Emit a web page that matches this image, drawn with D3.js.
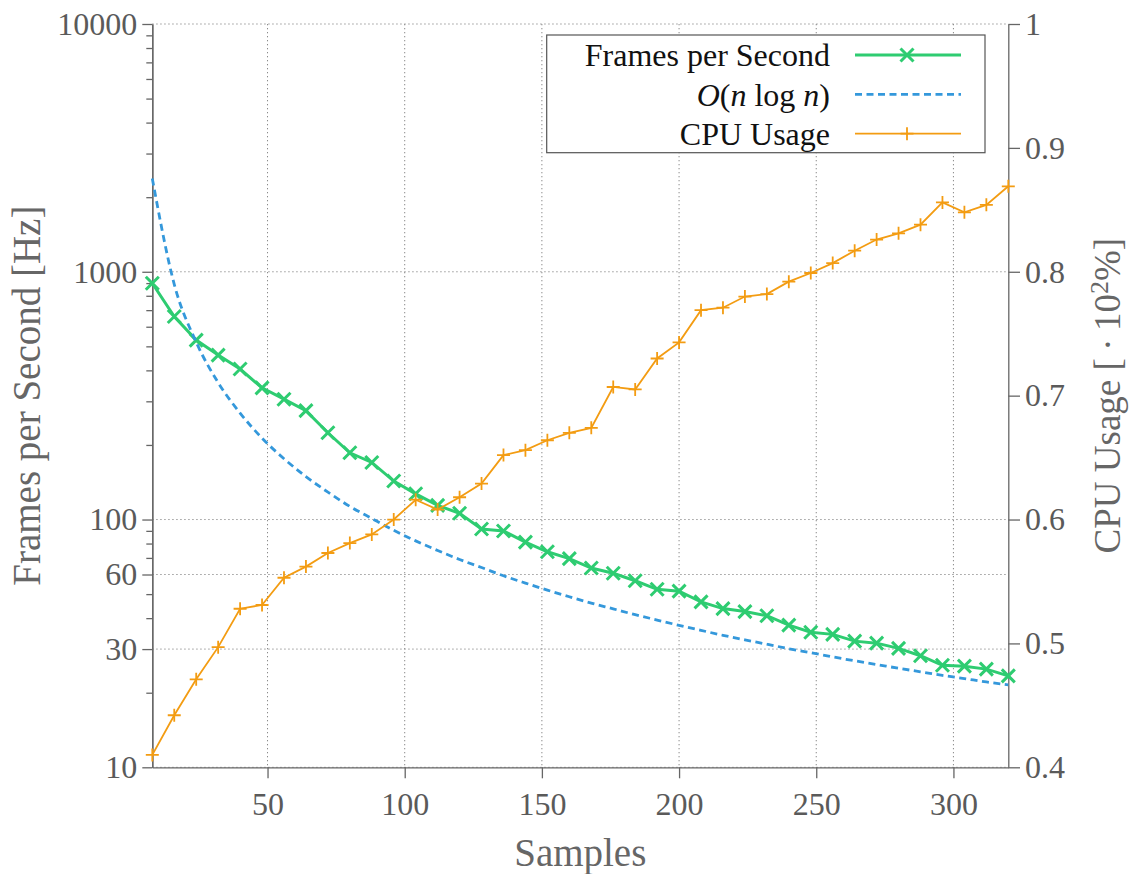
<!DOCTYPE html>
<html lang="en">
<head>
<meta charset="utf-8">
<title>Frames per Second and CPU Usage</title>
<script src="https://d3js.org/d3.v7.min.js"></script>
<style>
body { margin: 0; background: #fff; }
svg text { font-family: "Liberation Serif", "DejaVu Serif", serif; }
</style>
</head>
<body>
<div id="container"></div>
<script>
// values
const samples = [8, 16, 24, 32, 40, 48, 56, 64, 72, 80, 88, 96, 104, 112, 120, 128, 136, 144, 152, 160,
                 168, 176, 184, 192, 200, 208, 216, 224, 232, 240, 248, 256, 264, 272, 280, 288, 296, 304, 312, 320];
const fps = [899, 660, 530, 461, 405, 340, 306, 275, 224, 186, 170, 143, 127, 114, 106, 91.6, 89.9, 81.1, 74.1, 69.5,
             63.7, 60.7, 56.6, 52.3, 51.4, 46.5, 43.7, 42.5, 40.9, 37.5, 35.1, 34.4, 32.3, 31.7, 30.2, 28.2, 25.8, 25.6, 24.9, 23.4];
const nlogn = [2380, 890, 520, 357, 269, 213, 176, 149, 129, 113, 101, 90.5, 82, 75, 69, 64, 59.3, 55.4, 51.9, 48.8,
               46, 43.6, 41.3, 39.3, 37.4, 35.7, 34.1, 32.7, 31.4, 30.1, 29, 27.9, 26.9, 26, 25.1, 24.3, 23.5, 22.8, 22.1, 21.5];
const cpu = [0.410, 0.442, 0.471, 0.497, 0.528, 0.531, 0.553, 0.562, 0.573, 0.581, 0.588, 0.600, 0.616, 0.608, 0.618, 0.629, 0.652, 0.656, 0.664, 0.670,
             0.674, 0.707, 0.705, 0.730, 0.743, 0.769, 0.771, 0.780, 0.782, 0.792, 0.799, 0.807, 0.817, 0.826, 0.831, 0.838, 0.856, 0.848, 0.854, 0.869];

const sampleTicks = [50, 100, 150, 200, 250, 300];
const fpsTicks = [10, 30, 60, 100, 1000, 10000];
const fpsMinorTicks = [20, 40, 50, 70, 80, 90, 200, 300, 400, 500, 600, 700, 800, 900,
                       2000, 3000, 4000, 5000, 6000, 7000, 8000, 9000];
const cpuTicks = [0.4, 0.5, 0.6, 0.7, 0.8, 0.9, 1];

const seriesNames = ["Frames per Second", "O(n log n)", "CPU Usage"];
const colors = { fps: "#2ecc71", nlogn: "#3498db", cpu: "#f39c12" };

const width = 1133;
const height = 874;
const margin = { top: 24, right: 124.7, bottom: 106.7, left: 152.3 };
const innerW = width - margin.left - margin.right;
const innerH = height - margin.top - margin.bottom;
const axisGray = "#666";

const svg = d3.select("div#container").append("svg")
    .attr("width", width)
    .attr("height", height);

const g = svg.append("g")
    .attr("transform", "translate(" + margin.left + "," + margin.top + ")");

const xScale = d3.scaleLinear().domain([8, 320]).range([0, innerW]);
const yScale = d3.scaleLog().domain([10, 10000]).range([innerH, 0]);
const y2Scale = d3.scaleLinear().domain([0.4, 1]).range([innerH, 0]);

// grid
const grid = g.append("g")
    .attr("stroke", "#8a8a8a")
    .attr("stroke-width", 1)
    .attr("stroke-dasharray", "1.3,2.7");
grid.selectAll("line.v")
    .data(sampleTicks)
    .enter().append("line")
    .attr("x1", d => xScale(d)).attr("x2", d => xScale(d))
    .attr("y1", 0).attr("y2", innerH);
grid.selectAll("line.h")
    .data(fpsTicks)
    .enter().append("line")
    .attr("x1", 0).attr("x2", innerW)
    .attr("y1", d => yScale(d)).attr("y2", d => yScale(d));

// axes
function styleAxis(sel, fontSize) {
    sel.attr("font-family", null).attr("font-size", null);
    sel.selectAll("path, line").attr("stroke", axisGray).attr("stroke-width", 1.3);
    sel.selectAll("text").attr("fill", "#5a5a5a").style("font-size", fontSize + "px");
}

const xAxis = g.append("g")
    .attr("transform", "translate(0," + innerH + ")")
    .call(d3.axisBottom(xScale).tickValues(sampleTicks).tickFormat(d => String(d))
        .tickSize(11).tickPadding(14).tickSizeOuter(0));
styleAxis(xAxis, 32);

const yMinor = g.append("g")
    .call(d3.axisLeft(yScale).tickValues(fpsMinorTicks).tickFormat("").tickSize(6).tickSizeOuter(0));
styleAxis(yMinor, 32);

const yAxis = g.append("g")
    .call(d3.axisLeft(yScale).tickValues(fpsTicks).tickFormat(d => String(d))
        .tickSize(10).tickPadding(5).tickSizeOuter(0));
styleAxis(yAxis, 32);

const y2Axis = g.append("g")
    .attr("transform", "translate(" + innerW + ",0)")
    .call(d3.axisRight(y2Scale).tickValues(cpuTicks).tickFormat(d => String(d))
        .tickSize(11.7).tickPadding(5).tickSizeOuter(0));
styleAxis(y2Axis, 32);

// axis titles
svg.append("text")
    .attr("x", margin.left + innerW / 2)
    .attr("y", 866)
    .attr("text-anchor", "middle")
    .attr("fill", axisGray)
    .style("font-size", "39px")
    .text("Samples");

svg.append("text")
    .attr("transform", "translate(40," + (margin.top + innerH / 2) + ") rotate(-90)")
    .attr("text-anchor", "middle")
    .attr("fill", axisGray)
    .style("font-size", "39px")
    .text("Frames per Second [Hz]");

const rightTitle = svg.append("text")
    .attr("transform", "translate(1120," + (margin.top + innerH / 2) + ") rotate(-90)")
    .attr("text-anchor", "middle")
    .attr("fill", axisGray)
    .style("font-size", "37px");
rightTitle.append("tspan").text("CPU Usage [\u2009\u00b7\u200910");
rightTitle.append("tspan").attr("dy", -12).style("font-size", "26px").text("2");
rightTitle.append("tspan").attr("dy", 12).text("%]");

// series
const xMark = "M-6.5,-6.5L6.5,6.5M-6.5,6.5L6.5,-6.5";
const plusMark = "M-6.5,0H6.5M0,-6.5V6.5";

const fpsLine = d3.line()
    .x((d, i) => xScale(samples[i]))
    .y(d => yScale(d));
const nlognLine = d3.line()
    .x((d, i) => xScale(samples[i]))
    .y(d => yScale(d))
    .curve(d3.curveMonotoneX);
const cpuLine = d3.line()
    .x((d, i) => xScale(samples[i]))
    .y(d => y2Scale(d));

g.append("path")
    .attr("d", fpsLine(fps))
    .attr("fill", "none")
    .attr("stroke", colors.fps)
    .attr("stroke-width", 3);
g.selectAll("path.fpsMark")
    .data(fps)
    .enter().append("path")
    .attr("class", "fpsMark")
    .attr("transform", (d, i) => "translate(" + xScale(samples[i]) + "," + yScale(d) + ")")
    .attr("d", xMark)
    .attr("stroke", colors.fps)
    .attr("stroke-width", 3);

g.append("path")
    .attr("d", nlognLine(nlogn))
    .attr("fill", "none")
    .attr("stroke", colors.nlogn)
    .attr("stroke-width", 2.8)
    .attr("stroke-dasharray", "7,4.5");

g.append("path")
    .attr("d", cpuLine(cpu))
    .attr("fill", "none")
    .attr("stroke", colors.cpu)
    .attr("stroke-width", 1.8);
g.selectAll("path.cpuMark")
    .data(cpu)
    .enter().append("path")
    .attr("class", "cpuMark")
    .attr("transform", (d, i) => "translate(" + xScale(samples[i]) + "," + y2Scale(d) + ")")
    .attr("d", plusMark)
    .attr("stroke", colors.cpu)
    .attr("stroke-width", 1.8);

// legend
const legend = svg.append("g");
legend.append("rect")
    .attr("x", 546.7).attr("y", 35)
    .attr("width", 438.3).attr("height", 117.7)
    .attr("fill", "#fff")
    .attr("stroke", "#555")
    .attr("stroke-width", 1.2);

const rowY = [55, 94.3, 133.7];
const legendItems = [
    { color: colors.fps, width: 3, dash: null, mark: xMark },
    { color: colors.nlogn, width: 2.8, dash: "7,4.5", mark: null },
    { color: colors.cpu, width: 1.8, dash: null, mark: plusMark }
];

legendItems.forEach(function(item, i) {
    legend.append("line")
        .attr("x1", 855).attr("x2", 961)
        .attr("y1", rowY[i]).attr("y2", rowY[i])
        .attr("stroke", item.color)
        .attr("stroke-width", item.width)
        .attr("stroke-dasharray", item.dash);
    if (item.mark) {
        legend.append("path")
            .attr("transform", "translate(907," + rowY[i] + ")")
            .attr("d", item.mark)
            .attr("stroke", item.color)
            .attr("stroke-width", item.width);
    }
    const t = legend.append("text")
        .attr("x", 830).attr("y", rowY[i])
        .attr("dy", "0.35em")
        .attr("text-anchor", "end")
        .attr("fill", "#111")
        .style("font-size", "32px");
    if (i === 1) {
        t.append("tspan").style("font-style", "italic").text("O");
        t.append("tspan").text("(");
        t.append("tspan").style("font-style", "italic").text("n");
        t.append("tspan").text(" log ");
        t.append("tspan").style("font-style", "italic").text("n");
        t.append("tspan").text(")");
    } else {
        t.text(seriesNames[i]);
    }
});
</script>
</body>
</html>
